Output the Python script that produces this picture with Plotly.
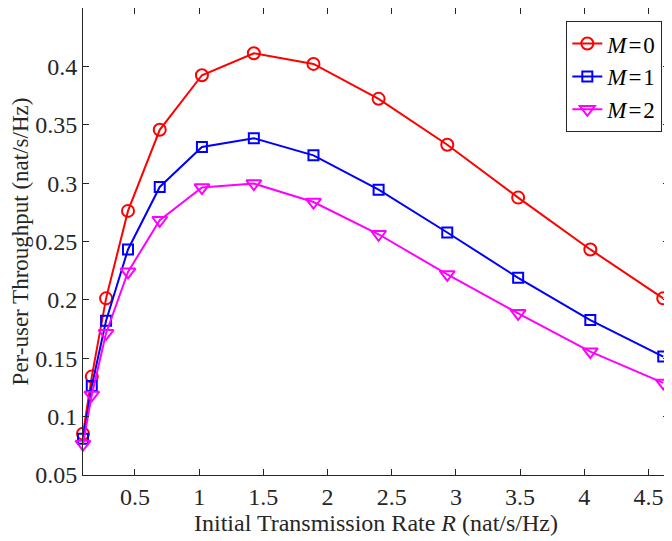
import plotly.graph_objects as go

R_values = [0.0953, 0.1637, 0.2750, 0.4458, 0.6931, 1.0217, 1.4261, 1.8906,
            2.3979, 2.9327, 3.4849, 4.0470, 4.6151]
thr_M0 = [0.0853, 0.1343, 0.2013, 0.2762, 0.3457, 0.3924, 0.4112, 0.4021,
          0.3722, 0.3329, 0.2876, 0.2432, 0.2013]
thr_M1 = [0.0810, 0.1263, 0.1821, 0.2432, 0.2967, 0.3309, 0.3385, 0.3238,
          0.2944, 0.2577, 0.2189, 0.1827, 0.1514]
thr_M2 = [0.0765, 0.1186, 0.1714, 0.2240, 0.2682, 0.2962, 0.2996, 0.2838,
          0.2562, 0.2218, 0.1885, 0.1556, 0.1289]
series_names = ["<i>M</i>\u200a=\u200a0", "<i>M</i>\u200a=\u200a1", "<i>M</i>\u200a=\u200a2"]
x_ticks = [0.5, 1, 1.5, 2, 2.5, 3, 3.5, 4, 4.5]
x_ticklabels = ["0.5", "1", "1.5", "2", "2.5", "3", "3.5", "4", "4.5"]
y_ticks = [0.05, 0.1, 0.15, 0.2, 0.25, 0.3, 0.35, 0.4, 0.45]
y_ticklabels = ["0.05", "0.1", "0.15", "0.2", "0.25", "0.3", "0.35", "0.4", "0.45"]

styles = [
    dict(color="#FF0000", symbol="circle-open", size=12),
    dict(color="#0000FF", symbol="square-open", size=10),
    dict(color="#FF00FF", symbol="triangle-down-open", size=13),
]

font_family = "Liberation Serif, Times New Roman, serif"
fig = go.Figure()
for name, ys, st in zip(series_names, [thr_M0, thr_M1, thr_M2], styles):
    fig.add_trace(go.Scatter(
        x=R_values, y=ys, mode="lines+markers", name=name,
        line=dict(color=st["color"], width=2),
        marker=dict(symbol=st["symbol"], size=st["size"], color=st["color"],
                    line=dict(color=st["color"], width=2)),
        cliponaxis=False,
    ))

axis_common = dict(
    showline=True, linecolor="#262626", linewidth=1, mirror="ticks",
    ticks="inside", ticklen=6, tickcolor="#262626", tickwidth=1,
    showgrid=False, zeroline=False, automargin=False,
    tickfont=dict(family=font_family, size=24, color="#262626"),
)

# page body has an 8px default margin; the figure is sized/offset to compensate
fig.update_layout(
    width=664, height=533,
    margin=dict(l=75, r=3, t=0, b=66),
    paper_bgcolor="white", plot_bgcolor="white",
    font=dict(family=font_family, color="#262626"),
    xaxis=dict(range=[0.0953, 4.66], tickvals=x_ticks, ticktext=x_ticklabels,
               title=dict(text="Initial Transmission Rate <i>R</i> (nat/s/Hz)",
                          font=dict(family=font_family, size=24, color="#262626"),
                          standoff=5),
               **axis_common),
    yaxis=dict(range=[0.05, 0.45], tickvals=y_ticks, ticktext=y_ticklabels,
               title=dict(text="Per-user Throughput (nat/s/Hz)",
                          font=dict(family=font_family, size=23, color="#262626"),
                          standoff=2),
               **axis_common),
    legend=dict(x=0.9886, y=0.972, xanchor="right", yanchor="top",
                bgcolor="white", bordercolor="#262626", borderwidth=1,
                font=dict(family=font_family, size=23, color="black"),
                tracegroupgap=0, itemwidth=30),
    showlegend=True,
)

fig.write_html("out.html")
